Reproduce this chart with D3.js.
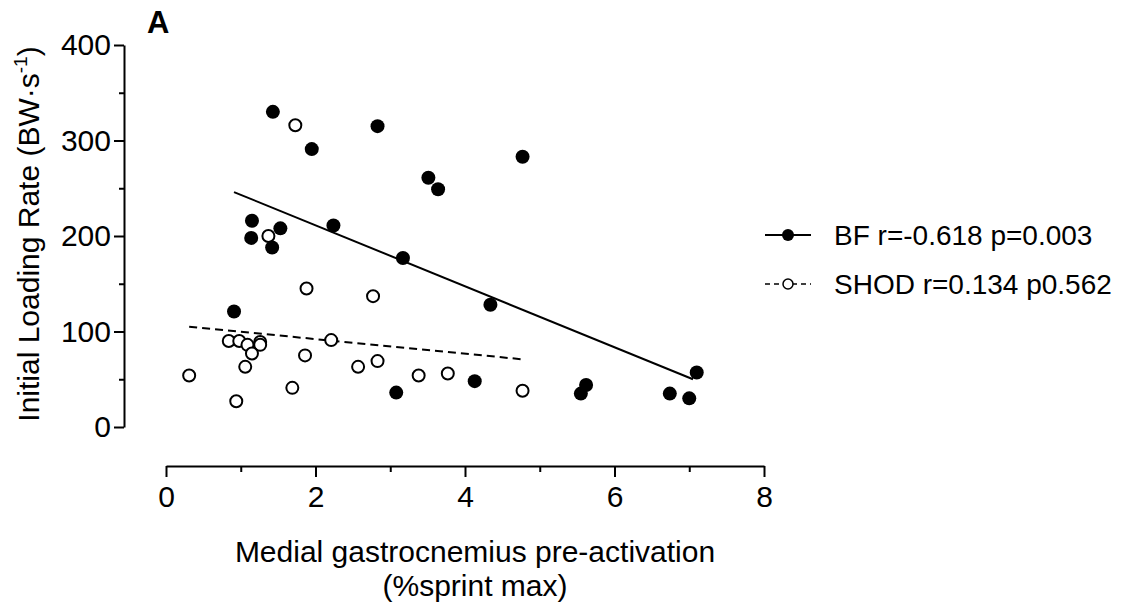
<!DOCTYPE html>
<html><head><meta charset="utf-8">
<script src="https://cdn.jsdelivr.net/npm/d3@7"></script>
<style>body{margin:0;background:#fff}svg{display:block}text{font-family:"Liberation Sans",Arial,sans-serif;fill:#000}</style>
</head><body>
<svg id="c" width="1139" height="609"></svg>
<script>
// Data
const bfX = [1.43,1.95,1.15,1.14,1.53,1.42,2.24,0.91,2.83,4.77,3.51,3.64,3.17,4.34,3.08,4.13,7.10,5.62,5.55,6.74,7.00];
const bfY = [330,291,216,198,208,188,211,121,315,283,261,249,177,128,36,48,57,44,35,35,30];
const shodX = [1.73,1.37,1.88,0.84,0.98,1.09,1.26,1.26,1.15,2.21,1.86,1.06,0.31,1.69,0.94,2.57,2.77,2.83,3.38,3.77,4.77];
const shodY = [316,200,145,90,90,86,89,86,77,91,75,63,54,41,27,63,137,69,54,56,38];
const bfFitX = [0.91, 7.05];
const bfFitY = [246, 50];
const shodFitX = [0.31, 4.75];
const shodFitY = [105, 71];
const xTicks = [0,2,4,6,8];
const xMinor = [1,3,5,7];
const yTicks = [0,100,200,300,400];
const yMinor = [50,150,250,350];
const legendLabels = ["BF r=-0.618 p=0.003", "SHOD r=0.134 p0.562"];

const svg = d3.select("#c");
const x = d3.scaleLinear().domain([0,8]).range([166,764]);
const y = d3.scaleLinear().domain([0,400]).range([427,45]);
const R = 7;

// X axis
const gx = svg.append("g").attr("transform","translate(0,466)");
gx.call(d3.axisBottom(x).tickValues(xTicks).tickSize(11).tickSizeOuter(0).tickPadding(9));
gx.append("g").call(d3.axisBottom(x).tickValues(xMinor).tickSize(6).tickFormat("").tickSizeOuter(0)).select(".domain").remove();
gx.selectAll("path,line").attr("stroke","#000").attr("stroke-width",2);
gx.selectAll("text").attr("font-size",30).attr("font-family","Liberation Sans, Arial, sans-serif").attr("fill","#000");

// Y axis
const gy = svg.append("g").attr("transform","translate(124,0)");
gy.call(d3.axisLeft(y).tickValues(yTicks).tickSize(10).tickSizeOuter(0).tickPadding(3));
gy.append("g").call(d3.axisLeft(y).tickValues(yMinor).tickSize(5).tickFormat("").tickSizeOuter(0)).select(".domain").remove();
gy.selectAll("path,line").attr("stroke","#000").attr("stroke-width",2);
gy.selectAll("text").attr("font-size",30).attr("font-family","Liberation Sans, Arial, sans-serif").attr("fill","#000");

// Axis titles
svg.append("text").attr("x",475).attr("y",562).attr("text-anchor","middle").attr("font-size",30).text("Medial gastrocnemius pre-activation");
svg.append("text").attr("x",475).attr("y",596).attr("text-anchor","middle").attr("font-size",30).text("(%sprint max)");
const yt = svg.append("text").attr("transform","translate(39,234) rotate(-90)").attr("text-anchor","middle").attr("font-size",30);
yt.append("tspan").text("Initial Loading Rate (BW\u00B7s");
yt.append("tspan").attr("dy",-12).attr("font-size",19).text("-1");
yt.append("tspan").attr("dy",12).text(")");

// Panel label
svg.append("text").attr("x",147).attr("y",33).attr("font-size",31).attr("font-weight","bold").text("A");

// Fit lines
const line = d3.line().x(d=>x(d[0])).y(d=>y(d[1]));
svg.append("path").datum(d3.zip(bfFitX,bfFitY)).attr("d",line).attr("fill","none").attr("stroke","#000").attr("stroke-width",2);
svg.append("path").datum(d3.zip(shodFitX,shodFitY)).attr("d",line).attr("fill","none").attr("stroke","#000").attr("stroke-width",2).attr("stroke-dasharray","8,5");

// Points
svg.append("g").selectAll("circle").data(d3.zip(shodX,shodY)).join("circle")
  .attr("cx",d=>x(d[0])).attr("cy",d=>y(d[1])).attr("r",R-1)
  .attr("fill","#fff").attr("stroke","#000").attr("stroke-width",2);
svg.append("g").selectAll("circle").data(d3.zip(bfX,bfY)).join("circle")
  .attr("cx",d=>x(d[0])).attr("cy",d=>y(d[1])).attr("r",R)
  .attr("fill","#000");

// Legend
const lg = svg.append("g");
lg.append("line").attr("x1",765).attr("x2",811).attr("y1",235).attr("y2",235).attr("stroke","#000").attr("stroke-width",2);
lg.append("circle").attr("cx",788).attr("cy",235).attr("r",6).attr("fill","#000");
lg.append("line").attr("x1",765).attr("x2",811).attr("y1",284).attr("y2",284).attr("stroke","#000").attr("stroke-width",1.5).attr("stroke-dasharray","5,4");
lg.append("circle").attr("cx",788).attr("cy",284).attr("r",5).attr("fill","#fff").attr("stroke","#000").attr("stroke-width",1.5);
lg.selectAll("text.l").data(legendLabels).join("text").attr("class","l")
  .attr("x",834).attr("y",(d,i)=>245+i*49).attr("font-size",28).text(d=>d);
</script>
</body></html>
